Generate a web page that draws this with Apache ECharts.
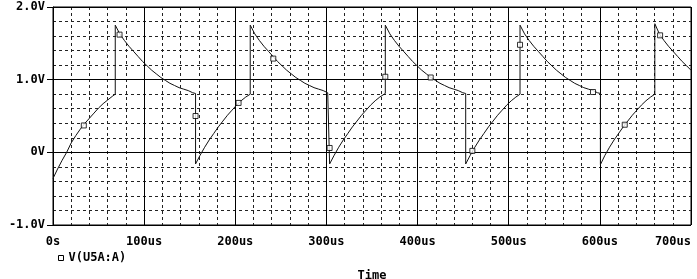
<!DOCTYPE html>
<html>
<head>
<meta charset="utf-8">
<script src="https://cdn.jsdelivr.net/npm/echarts@6/dist/echarts.min.js"></script>
<style>
html,body{margin:0;padding:0;background:#fff;}
#chart{width:697px;height:279px;}
</style>
</head>
<body>
<div id="chart"></div>
<script>
// ---- data (time in us, voltage in V) ----
const seriesName = 'V(U5A:A)';
const xTickLabels = ['0s','100us','200us','300us','400us','500us','600us','700us'];
const yTickLabels = ['-1.0V','0V','1.0V','2.0V'];

const ramp0 = [[0,-0.36],[5,-0.23],[10,-0.11],[15,0.00],[20,0.13],[25,0.23],[30,0.32],[35,0.40],[40,0.47],[45,0.54],[50,0.61],[55,0.67],[60,0.72],[65,0.77],[68.3,0.80]];
const high1 = [[68.3,1.75],[73.3,1.63],[78.3,1.54],[83.3,1.46],[88.3,1.39],[93.3,1.32],[98.3,1.25],[103.3,1.19],[108.3,1.13],[113.3,1.08],[118.3,1.03],[123.3,0.99],[128.3,0.95],[133.3,0.92],[138.3,0.89],[143.3,0.87],[148.3,0.85],[153.3,0.82],[156.4,0.81]];
const low1  = [[156.4,-0.16],[161.4,-0.04],[166.4,0.07],[171.4,0.17],[176.4,0.26],[181.4,0.35],[186.4,0.43],[191.4,0.51],[196.4,0.58],[201.4,0.65],[206.4,0.71],[211.4,0.76],[216.4,0.80]];
const high2 = [[216.4,1.75],[221.4,1.63],[226.4,1.54],[231.4,1.46],[236.4,1.39],[241.4,1.32],[246.4,1.25],[251.4,1.19],[256.4,1.13],[261.4,1.08],[266.4,1.03],[271.4,0.99],[276.4,0.95],[281.4,0.92],[286.4,0.89],[291.4,0.87],[296.4,0.85],[301.4,0.82],[303.5,0.81]];
const low2  = [[303.5,-0.16],[308.5,-0.04],[313.5,0.07],[318.5,0.17],[323.5,0.26],[328.5,0.35],[333.5,0.43],[338.5,0.51],[343.5,0.58],[348.5,0.65],[353.5,0.71],[358.5,0.76],[364.6,0.81]];
const high3 = [[364.6,1.75],[369.6,1.63],[374.6,1.54],[379.6,1.46],[384.6,1.39],[389.6,1.32],[394.6,1.25],[399.6,1.19],[404.6,1.13],[409.6,1.08],[414.6,1.03],[419.6,0.99],[424.6,0.95],[429.6,0.92],[434.6,0.89],[439.6,0.87],[444.6,0.85],[449.6,0.82],[452.8,0.81]];
const low3  = [[452.8,-0.16],[457.8,-0.04],[462.8,0.07],[467.8,0.17],[472.8,0.26],[477.8,0.35],[482.8,0.43],[487.8,0.51],[492.8,0.58],[497.8,0.65],[502.8,0.71],[507.8,0.76],[512.4,0.80]];
const high4 = [[512.4,1.75],[517.4,1.63],[522.4,1.54],[527.4,1.46],[532.4,1.39],[537.4,1.32],[542.4,1.25],[547.4,1.19],[552.4,1.13],[557.4,1.08],[562.4,1.03],[567.4,0.99],[572.4,0.95],[577.4,0.92],[582.4,0.89],[587.4,0.87],[592.4,0.85],[597.4,0.82],[600.6,0.81]];
const low4  = [[600.6,-0.17],[605.6,-0.04],[610.6,0.07],[615.6,0.17],[620.6,0.26],[625.6,0.35],[630.6,0.43],[635.6,0.51],[640.6,0.58],[645.6,0.65],[650.6,0.71],[655.6,0.76],[660.3,0.80]];
const high5 = [[660.3,1.77],[665.3,1.63],[670.3,1.54],[675.3,1.46],[680.3,1.39],[685.3,1.32],[690.3,1.25],[695.3,1.19],[700,1.13]];

const markerPoints = [[33.8,0.37],[73,1.62],[156.4,0.50],[203.6,0.68],[241.7,1.29],[303.5,0.06],[364.6,1.04],[414.4,1.03],[460.1,0.02],[512.4,1.48],[592.5,0.83],[627.3,0.38],[666.1,1.61]];

const waveform = [].concat(ramp0, high1, low1, high2, low2, high3, low3, high4, low4, high5);

// ---- chart ----
const FONT = 'DejaVu Sans Mono';
const chart = echarts.init(document.getElementById('chart'), null, {renderer:'canvas'});
const dotted = {color:'#222', width:1, type:[3,3]};
const solid = {color:'#000', width:1, type:'solid'};

chart.setOption({
  animation:false,
  backgroundColor:'#fff',
  grid:{left:53, right:6, top:7, bottom:54, containLabel:false, outerBoundsMode:'none',
        show:true, borderColor:'#000', borderWidth:1, backgroundColor:'transparent'},
  legend:{
    left:53, top:247, itemWidth:5, itemHeight:5, itemGap:6,
    data:[{name:seriesName, icon:'rect', itemStyle:{color:'#fff', borderColor:'#000', borderWidth:1}}],
    textStyle:{fontFamily:FONT, fontWeight:'bold', fontSize:12, color:'#000'}
  },
  xAxis:[
    {type:'value', min:0, max:700, interval:100,
     name:'Time', nameLocation:'middle', nameGap:45,
     nameTextStyle:{fontFamily:FONT, fontWeight:'bold', fontSize:12, color:'#000'},
     axisLine:{show:true, lineStyle:{color:'#000', width:1}},
     axisTick:{show:true, length:4, lineStyle:{color:'#000'}},
     axisLabel:{margin:11, fontFamily:FONT, fontWeight:'bold', fontSize:12, color:'#000',
       alignMaxLabel:'right',
       formatter:(v)=>xTickLabels[Math.round(v/100)]},
     splitLine:{show:true, lineStyle:solid}, z:3},
    {type:'value', min:0, max:700, interval:20, position:'bottom',
     axisLine:{show:false}, axisTick:{show:false}, axisLabel:{show:false},
     splitLine:{show:true, lineStyle:dotted}}
  ],
  yAxis:[
    {type:'value', min:-1, max:2, interval:1,
     axisLine:{show:true, lineStyle:{color:'#000', width:1}},
     axisTick:{show:true, length:6, lineStyle:{color:'#000'}},
     axisLabel:{margin:8, fontFamily:FONT, fontWeight:'bold', fontSize:12, color:'#000',
       formatter:(v)=>yTickLabels[Math.round(v+1)]},
     splitLine:{show:true, lineStyle:solid}, z:3},
    {type:'value', min:-1, max:2, interval:0.2, position:'left',
     axisLine:{show:false}, axisTick:{show:false}, axisLabel:{show:false},
     splitLine:{show:true, lineStyle:dotted}}
  ],
  series:[
    {name:seriesName, type:'line', xAxisIndex:0, yAxisIndex:0, data:waveform,
     showSymbol:false, symbol:'none', lineStyle:{color:'#111', width:1}, z:5},
    {name:seriesName, type:'scatter', xAxisIndex:0, yAxisIndex:0, data:markerPoints,
     symbol:'rect', symbolSize:5, itemStyle:{color:'#fff', borderColor:'#000', borderWidth:1}, z:6}
  ]
});
</script>
</body>
</html>
